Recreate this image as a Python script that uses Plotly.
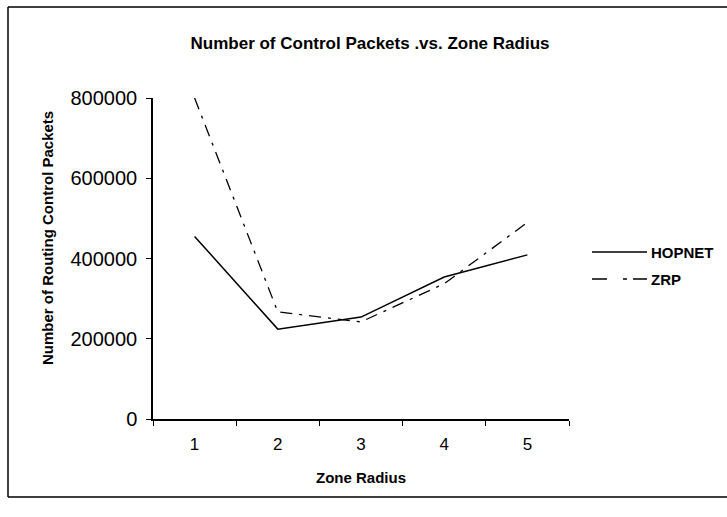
import plotly.graph_objects as go

zone_radius = ["1", "2", "3", "4", "5"]
hopnet = [455000, 224000, 254000, 354000, 409000]
zrp = [800000, 267000, 242000, 337000, 490000]
y_ticks = [0, 200000, 400000, 600000, 800000]
series_names = ["HOPNET", "ZRP"]

W, H = 727, 517
L, R, T, B = 153, 158, 98, 98
pw, ph = W - L - R, H - T - B

def px(x):
    return (x - L) / pw

def py(y):
    return (H - B - y) / ph

font_family = "Liberation Sans, Arial, sans-serif"
zrp_dash = "12px,7px,3px,7px"

fig = go.Figure()
fig.add_trace(go.Scatter(x=zone_radius, y=hopnet, mode="lines", name=series_names[0],
                         line=dict(color="black", width=1.5), showlegend=False))
fig.add_trace(go.Scatter(x=zone_radius, y=zrp, mode="lines", name=series_names[1],
                         line=dict(color="black", width=1.3, dash=zrp_dash),
                         showlegend=False))

fig.update_layout(
    width=W, height=H,
    margin=dict(l=L, r=R, t=T, b=B),
    paper_bgcolor="white", plot_bgcolor="white",
    title=dict(text="<b>Number of Control Packets .vs. Zone Radius</b>",
               x=px(370), xanchor="center", y=1 - 43 / H, yanchor="middle",
               xref="paper",
               font=dict(family=font_family, size=17, color="black")),
    xaxis=dict(type="category", tickson="boundaries", range=[-0.5, 4.5],
               ticks="outside", ticklen=5, tickcolor="black",
               showline=True, linecolor="black", linewidth=1.5,
               showgrid=False, zeroline=False, ticklabelstandoff=9,
               tickfont=dict(family=font_family, size=17, color="black"),
               title=dict(text="<b>Zone Radius</b>", standoff=19,
                          font=dict(family=font_family, size=15, color="black"))),
    yaxis=dict(range=[0, 800000], tickvals=y_ticks,
               ticktext=[str(v) for v in y_ticks],
               ticks="outside", ticklen=5, tickcolor="black",
               showline=True, linecolor="black", linewidth=1.5,
               showgrid=False, zeroline=False, ticklabelstandoff=5,
               tickfont=dict(family=font_family, size=20, color="black")),
)

# y-axis title
fig.add_annotation(text="<b>Number of Routing Control Packets</b>", textangle=-90,
                   xref="paper", yref="paper", x=px(47), y=py(238),
                   xanchor="center", yanchor="middle", showarrow=False,
                   font=dict(family=font_family, size=15, color="black"))

# legend (line samples + labels)
legend_rows = [(252, dict(color="black", width=1.5)),
               (279, dict(color="black", width=1.5, dash="15px,16px,4px,6px"))]
for name, (ly, lstyle) in zip(series_names, legend_rows):
    fig.add_shape(type="line", xref="paper", yref="paper",
                  x0=px(592), x1=px(647), y0=py(ly), y1=py(ly), line=lstyle)
    fig.add_annotation(text=f"<b>{name}</b>", xref="paper", yref="paper",
                       x=px(649), y=py(ly), xanchor="left", yanchor="middle",
                       showarrow=False,
                       font=dict(family=font_family, size=15, color="black"))

# chart border (left, top, bottom)
border = dict(color="black", width=1.5)
fig.add_shape(type="line", xref="paper", yref="paper",
              x0=px(8), x1=px(8), y0=py(497), y1=py(7), line=border)
fig.add_shape(type="line", xref="paper", yref="paper",
              x0=px(8), x1=px(727), y0=py(7), y1=py(7), line=border)
fig.add_shape(type="line", xref="paper", yref="paper",
              x0=px(8), x1=px(727), y0=py(497), y1=py(497), line=border)

fig.write_html("out.html",
               config={"displayModeBar": False},
               post_script="document.body.style.margin='0';"
                           "document.body.style.overflow='hidden';")
